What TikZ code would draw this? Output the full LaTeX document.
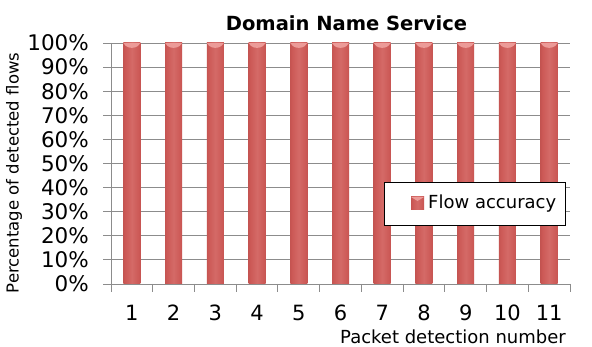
\documentclass[tikz,border=0pt]{standalone}
\usepackage{fontspec}
\setmainfont{DejaVu Sans}
\definecolor{gridc}{HTML}{8C8C8C}
\definecolor{bardark}{HTML}{A23E3B}
\definecolor{barmid}{HTML}{CC5956}
\definecolor{barlight}{HTML}{D46A67}
\definecolor{capc}{HTML}{EC9B98}
\pgfdeclarehorizontalshading{barshade}{100bp}{color(0bp)=(bardark); color(30bp)=(barmid); color(50bp)=(barlight); color(70bp)=(barmid); color(100bp)=(bardark)}
\tikzset{
  gridline/.style={draw=gridc, line width=0.9pt},
  ylab/.style={anchor=east, font=\fontsize{21.5}{21.5}\selectfont, inner sep=0pt},
  xlab/.style={anchor=center, font=\fontsize{21}{21}\selectfont, inner sep=0pt},
  axtitle/.style={font=\fontsize{18}{18}\selectfont, inner sep=0pt},
}
\begin{document}
\begin{tikzpicture}[x=1pt,y=-1pt]
\useasboundingbox[fill=white] (0,0) rectangle (592,347);
% title
\node[font=\bfseries\fontsize{19.5}{19.5}\selectfont, inner sep=0pt] (title) at (346.5,23) {Domain Name Service};
% gridlines and y labels
\foreach \i in {0,...,10} {
  \pgfmathsetmacro{\yy}{284-24.1*\i}
  \pgfmathtruncatemacro{\pc}{10*\i}
  \draw[gridline] (103,\yy) -- (570,\yy);
  \node[ylab] (yl\i) at (89,\yy) {\pc\%};
}
% y axis
\draw[gridline] (111,43) -- (111,284);
% x ticks
\foreach \k in {0,...,11} {
  \pgfmathsetmacro{\xx}{111+41.727*\k}
  \draw[gridline] (\xx,284) -- (\xx,292);
}
% bars
\foreach \k in {1,...,11} {
  \pgfmathsetmacro{\xc}{111+41.727*(\k-0.5)}
  \shade[shading=barshade] (\xc-8.5,43) rectangle (\xc+8.5,284);
  \fill[capc] (\xc-8.5,43) -- (\xc+8.5,43) -- (\xc+6,46) .. controls (\xc+3,48.5) and (\xc-3,48.5) .. (\xc-6,46) -- cycle;
  \node[xlab] (xl\k) at (\xc,313) {\k};
}
% axis titles
\node[font=\fontsize{16.5}{16.5}\selectfont, inner sep=0pt, rotate=90] (ytitle) at (14,173) {Percentage of detected flows};
\node[axtitle, anchor=east] (xtitle) at (566,337) {Packet detection number};
% legend
\node[draw=black, line width=0.8pt, fill=white, minimum width=181pt, minimum height=43pt, inner sep=0pt] (legend) at (475,203.5) {};
\shade[shading=barshade] (411,197) rectangle (424,210);
\fill[capc] (411,197) -- (424,197) -- (417.5,201) -- cycle;
\node[axtitle, anchor=west] (legtext) at (428,203.5) {Flow accuracy};
\end{tikzpicture}
\end{document}
